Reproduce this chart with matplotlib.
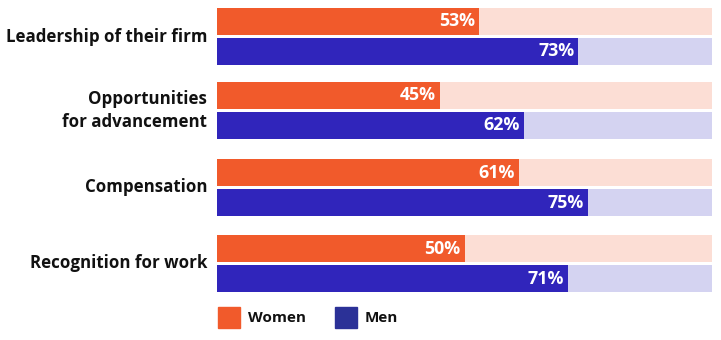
import matplotlib.pyplot as plt

categories = ["Leadership of their firm", "Opportunities\nfor advancement",
              "Compensation", "Recognition for work"]
women = [53, 45, 61, 50]
men = [73, 62, 75, 71]

orange = "#F15A2B"
orange_bg = "#FCDED5"
blue = "#3025BB"
blue_bg = "#D4D3F1"

plt.rcParams['font.family'] = ['Open Sans', 'DejaVu Sans']

fig = plt.figure(figsize=(7.21, 3.40), dpi=100)
# bar area spans x 217..712 px; y measured in pixels from the top
ax = fig.add_axes([217 / 721, 0, 495 / 721, 1])
ax.set_xlim(0, 100)
ax.set_ylim(340, 0)
ax.axis("off")

bar_h = 27
tops = [8, 82, 159, 235]
gap = 3

for top, cat, w, m in zip(tops, categories, women, men):
    wy = top + bar_h / 2
    my = top + bar_h + gap + bar_h / 2
    ax.barh(wy, 100, height=bar_h, color=orange_bg, linewidth=0)
    ax.barh(my, 100, height=bar_h, color=blue_bg, linewidth=0)
    ax.barh(wy, w, height=bar_h, color=orange, linewidth=0)
    ax.barh(my, m, height=bar_h, color=blue, linewidth=0)
    ax.annotate(f"{w}%", (w, wy), xytext=(-3, 0), textcoords="offset points",
                ha="right", va="center", color="white", fontsize=12.8,
                fontweight="bold")
    ax.annotate(f"{m}%", (m, my), xytext=(-3, 0), textcoords="offset points",
                ha="right", va="center", color="white", fontsize=12.8,
                fontweight="bold")
    ax.annotate(cat, (0, top + bar_h + gap / 2), xytext=(-7, 0),
                textcoords="offset points", ha="right", va="center",
                fontsize=12.2, fontweight="bold", color="#111111",
                linespacing=1.3)

# legend
fig.patches.append(plt.Rectangle((218 / 721, 1 - 328 / 340), 22 / 721, 21 / 340,
                                 transform=fig.transFigure, color=orange))
fig.text(248 / 721, 1 - 318 / 340, "Women", ha="left", va="center",
         fontsize=11, fontweight="bold", color="#111111")
fig.patches.append(plt.Rectangle((335 / 721, 1 - 328 / 340), 22 / 721, 21 / 340,
                                 transform=fig.transFigure, color="#2B3197"))
fig.text(365 / 721, 1 - 318 / 340, "Men", ha="left", va="center",
         fontsize=11, fontweight="bold", color="#111111")

fig.savefig("out.png", dpi=100, facecolor="white")
